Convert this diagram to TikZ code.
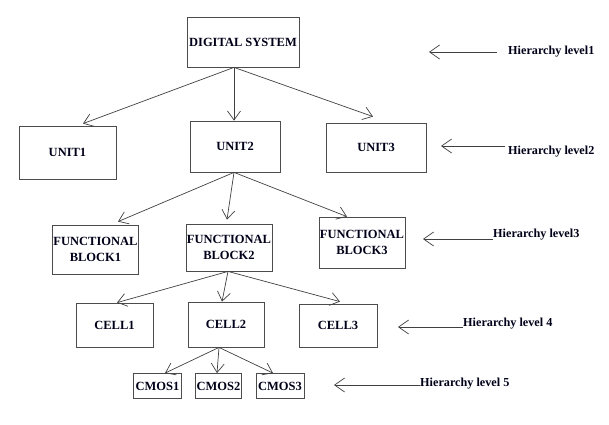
\documentclass[tikz,border=0pt]{standalone}
\usepackage{fontspec}
\setmainfont{Liberation Serif}
\usetikzlibrary{arrows.meta}
\usetikzlibrary{positioning}
\tikzset{blk/.style={draw=black!70,line width=0.8pt,align=center,inner sep=1pt,
  font=\bfseries\fontsize{12.5}{16}\selectfont,text=black!90!blue}}
\tikzset{down/.style={draw=black!75,line width=0.7pt,-{Straight Barb[length=9pt,width=13pt]}}}
\tikzset{lvl/.style={inner sep=0pt,anchor=west,font=\bfseries\fontsize{12.2}{14}\selectfont,text=black!90!blue}}
\tikzset{lvlarrow/.style={draw=black!75,line width=0.7pt,-{Straight Barb[length=10pt,width=14pt]}}}

\begin{document}
\begin{tikzpicture}[x=1pt,y=-1pt]
\useasboundingbox (0,0) rectangle (609,424);
% level 1
\node (sys) at (243,42) [blk,minimum width=112,minimum height=50] {DIGITAL SYSTEM};
% level 2
\node (u1) at (67.5,152.5) [blk,minimum width=97,minimum height=53] {UNIT1};
\node (u2) at (235,146.5) [blk,minimum width=90,minimum height=51] {UNIT2};
\node (u3) at (376,147.5) [blk,minimum width=100,minimum height=49] {UNIT3};
% level 3
\node (fb1) at (95.5,249.5) [blk,minimum width=85,minimum height=49] {FUNCTIONAL\\BLOCK1};
\node (fb2) at (229,247.5) [blk,minimum width=82,minimum height=47] {FUNCTIONAL\\BLOCK2};
\node (fb3) at (362,242.5) [blk,minimum width=84,minimum height=51] {FUNCTIONAL\\BLOCK3};
% level 4
\node (c1) at (114.5,325) [blk,minimum width=77,minimum height=44] {CELL1};
\node (c2) at (226,324.5) [blk,minimum width=76,minimum height=45] {CELL2};
\node (c3) at (338,325.5) [blk,minimum width=78,minimum height=43] {CELL3};
% level 5
\node (m1) at (157.5,386) [blk,minimum width=48,minimum height=25] {CMOS1};
\node (m2) at (218.5,386) [blk,minimum width=46,minimum height=25] {CMOS2};
\node (m3) at (280,386) [blk,minimum width=48,minimum height=25] {CMOS3};

\draw[down] ([xshift=-9pt]sys.south) -- ([xshift=15.5pt,yshift=2pt]u1.north);
\draw[down] ([xshift=-9pt]sys.south) -- ([xshift=-1pt]u2.north);
\draw[down] ([xshift=-9pt]sys.south) -- ([xshift=-3pt,yshift=6pt]u3.north);

\draw[down] ([xshift=-1pt]u2.south) -- ([xshift=22.5pt,yshift=3pt]fb1.north);
\draw[down] ([xshift=-1pt]u2.south) -- ([xshift=-2pt,yshift=4pt]fb2.north);
\draw[down] ([xshift=-1pt]u2.south) -- ([xshift=-15pt]fb3.north);

\draw[down] ([xshift=-1pt]fb2.south) -- ([xshift=2.5pt]c1.north);
\draw[down] ([xshift=-1pt]fb2.south) -- ([xshift=-4pt]c2.north);
\draw[down] ([xshift=-1pt]fb2.south) -- ([xshift=2pt,yshift=2pt]c3.north);

\draw[down] ([xshift=-7pt]c2.south) -- ([xshift=7.5pt]m1.north);
\draw[down] ([xshift=-7pt]c2.south) -- ([xshift=-1.5pt]m2.north);
\draw[down] ([xshift=-7pt]c2.south) -- ([xshift=-7pt]m3.north);

% hierarchy labels
\node (lvl1) at (508,52) [lvl] {Hierarchy level1};
\node (lvl2) at (508,152) [lvl] {Hierarchy level2};
\node (lvl3) at (493,235) [lvl] {Hierarchy level3};
\node (lvl4) at (463,324) [lvl] {Hierarchy level 4};
\node (lvl5) at (420,384) [lvl] {Hierarchy level 5};
\coordinate (t1) at (429,52);
\coordinate (t2) at (441,146);
\coordinate (t3) at (423,239);
\coordinate (t4) at (398,327);
\coordinate (t5) at (334,385);
\draw[lvlarrow,shorten <=11pt] (lvl1.west |- t1) -- (t1);
\draw[lvlarrow,shorten <=3pt] (lvl2.west |- t2) -- (t2);
\draw[lvlarrow] (lvl3.west |- t3) -- (t3);
\draw[lvlarrow] (lvl4.west |- t4) -- (t4);
\draw[lvlarrow] (lvl5.west |- t5) -- (t5);
\end{tikzpicture}
\end{document}
